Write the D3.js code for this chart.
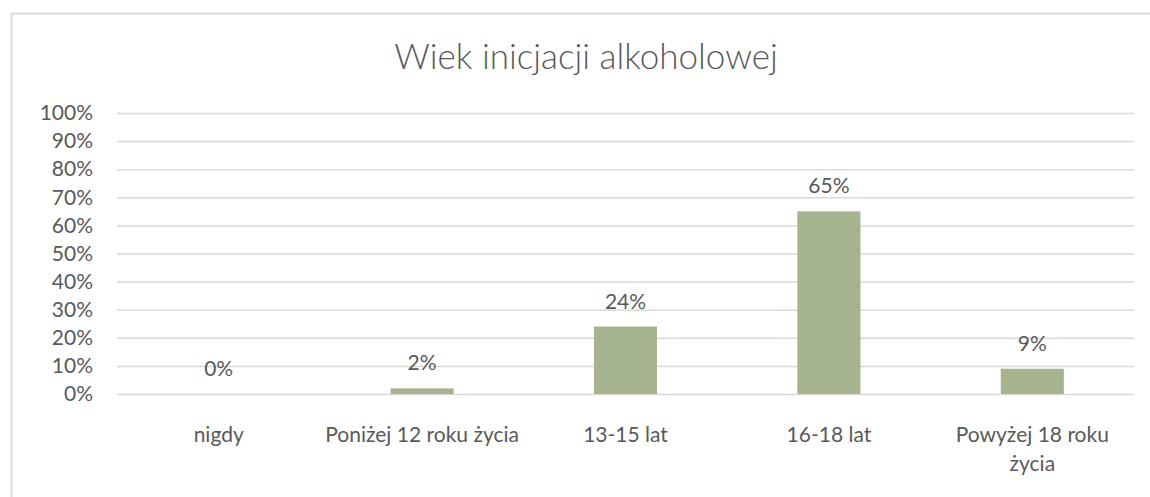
<!DOCTYPE html>
<html>
<head>
<meta charset="utf-8">
<script src="https://cdn.jsdelivr.net/npm/d3@7"></script>
<style>
  body { margin: 0; background: #fff; overflow: hidden; }
  svg text { font-family: Lato, "Open Sans", sans-serif; fill: #595959; }
</style>
</head>
<body>
<div id="chart"></div>
<script>
(() => {

  // chart data
  let categories = ['nigdy', 'Poniżej 12 roku życia', '13-15 lat', '16-18 lat', 'Powyżej 18 roku życia'];
  let values = [0, 2, 24, 65, 9];
  let yTicks = [0, 10, 20, 30, 40, 50, 60, 70, 80, 90, 100];
  let title = 'Wiek inicjacji alkoholowej';

  let W = 1150, H = 497;
  let margin = { top: 113, right: 16, bottom: 103, left: 117 };
  let width = W - margin.left - margin.right;
  let height = H - margin.top - margin.bottom;

  let svg = d3.select('#chart')
    .append('svg')
    .attr('width', W)
    .attr('height', H)
    .style('display', 'block');

  // outer frame, only top and left edge are visible in the picture
  svg.append('path')
    .attr('d', `M11.5,${H} V13.5 H${W}`)
    .attr('fill', 'none')
    .attr('stroke', '#d9d9d9')
    .attr('stroke-width', 2);

  svg.append('text')
    .attr('x', 586)
    .attr('y', 69)
    .attr('text-anchor', 'middle')
    .style('font-size', '35px')
    .style('font-weight', 300)
    .text(title);

  let g = svg.append('g')
    .attr('transform', `translate(${margin.left}, ${margin.top})`);

  let xScale = d3.scaleBand()
    .domain(categories)
    .range([0, width])
    .paddingInner(0.69)
    .paddingOuter(0.345);

  let yScale = d3.scaleLinear()
    .domain([0, 100])
    .range([height, 0]);

  //gridlines + tick labels through the axis
  let yAxis = d3.axisLeft(yScale)
    .tickValues(yTicks)
    .tickSize(-width)
    .tickPadding(24)
    .tickFormat(d => d + '%');

  g.append('g')
    .attr('class', 'y-axis')
    .call(yAxis)
    .call(a => a.select('.domain').remove())
    .call(a => a.selectAll('line').attr('stroke', '#d9d9d9').attr('stroke-width', 1.5))
    .call(a => a.selectAll('text').style('font-size', '21px').attr('fill', '#595959'));

  let xAxis = d3.axisBottom(xScale).tickSize(0).tickPadding(33);

  g.append('g')
    .attr('class', 'x-axis')
    .attr('transform', `translate(0, ${height})`)
    .call(xAxis)
    .call(a => a.select('.domain').remove())
    .call(a => a.selectAll('text').style('font-size', '21px').attr('fill', '#595959'))
    .selectAll('text')
    .call(wrap, xScale.step() - 4);

  g.selectAll('.bar')
    .data(values)
    .enter()
    .append('rect')
    .attr('class', 'bar')
    .attr('x', (d, i) => xScale(categories[i]))
    .attr('y', d => yScale(d))
    .attr('width', xScale.bandwidth())
    .attr('height', d => height - yScale(d))
    .attr('fill', '#a5b48e');

  g.selectAll('.label')
    .data(values)
    .enter()
    .append('text')
    .attr('class', 'label')
    .attr('x', (d, i) => xScale(categories[i]) + xScale.bandwidth() / 2)
    .attr('y', d => yScale(d) - 18)
    .attr('text-anchor', 'middle')
    .style('font-size', '21px')
    .text(d => d + '%');

  function wrap(texts, maxW) {
    texts.each(function () {
      let text = d3.select(this);
      let words = text.text().split(/\s+/);
      let y = text.attr('y');
      let dy = parseFloat(text.attr('dy'));
      let line = [];
      let lineNo = 0;
      let tspan = text.text(null).append('tspan').attr('x', 0).attr('y', y).attr('dy', dy + 'em');
      words.forEach(w => {
        line.push(w);
        tspan.text(line.join(' '));
        if (tspan.node().getComputedTextLength() > maxW && line.length > 1) {
          line.pop();
          tspan.text(line.join(' '));
          line = [w];
          lineNo += 1;
          tspan = text.append('tspan').attr('x', 0).attr('y', y)
            .attr('dy', (lineNo * 1.4 + dy) + 'em').text(w);
        }
      });
    });
  }

})()
</script>
</body>
</html>
